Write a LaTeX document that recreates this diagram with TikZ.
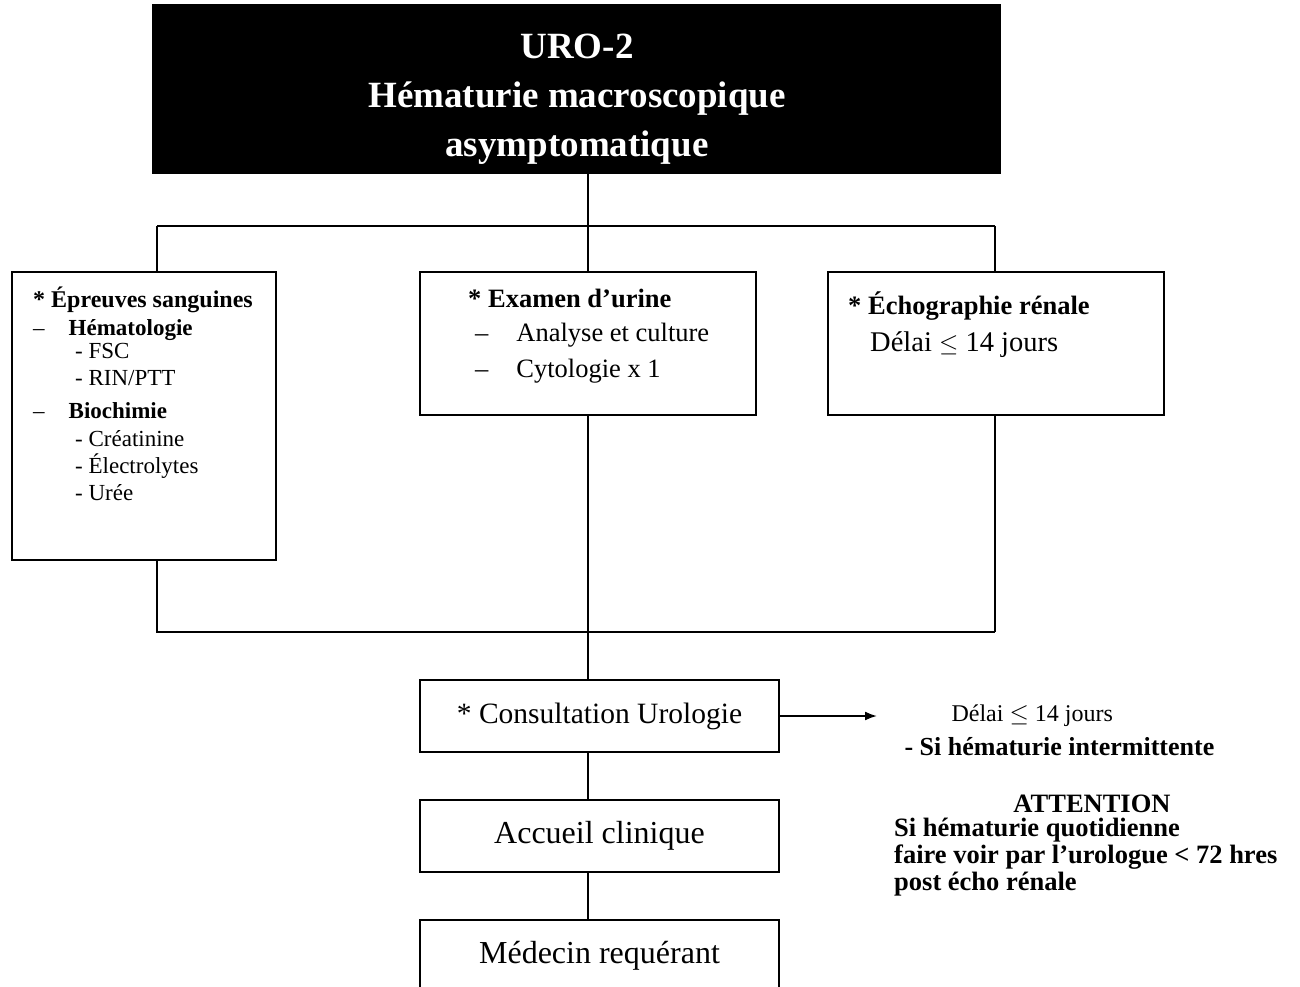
\documentclass[tikz,border=0pt]{standalone}
\usepackage{fontspec}
\setmainfont{Liberation Serif}
\usetikzlibrary{arrows.meta}

\tikzset{
  boite/.style={draw,line width=1.8pt,inner sep=0pt},
  lien/.style={line width=1.8pt},
  texte/.style={anchor=north west,align=left,inner sep=0pt},
}

\begin{document}
\begin{tikzpicture}[x=1pt,y=-1pt,>={Latex[length=12pt,width=9pt]}]
  \clip (0,0) rectangle (1300,987);
  % titre
  \node[fill=black,minimum width=849pt,minimum height=170pt] (titre) at (576.5,89) {};
  \node[text=white,align=center,font=\bfseries\fontsize{37}{49}\selectfont] (ttitre)
    at (577,99) {URO-2\\Hématurie macroscopique\\asymptomatique};
  % les trois examens
  \node[boite,minimum width=264pt,minimum height=288pt] (sang) at (144,416) {};
  \node[texte,font=\fontsize{23}{27.3}\selectfont] (tsang) at (33,287)
    {\textbf{\fontsize{24}{27.3}\selectfont* Épreuves sanguines}\\
     –\hspace*{24pt}\textbf{Hématologie}\\[-4pt]
     \hspace*{42pt}- FSC\\
     \hspace*{42pt}- RIN/PTT\\[6pt]
     –\hspace*{24pt}\textbf{Biochimie}\\
     \hspace*{42pt}- Créatinine\\
     \hspace*{42pt}- Électrolytes\\
     \hspace*{42pt}- Urée};
  \node[boite,minimum width=336pt,minimum height=143pt] (urine) at (588,343.5) {};
  \node[texte,font=\fontsize{26.5}{34}\selectfont] (turine) at (468,289)
    {\textbf{* Examen d’urine}\\
     \hspace*{7pt}–\hspace*{28pt}Analyse et culture\\[2pt]
     \hspace*{7pt}–\hspace*{28pt}Cytologie x 1};
  \node[boite,minimum width=336pt,minimum height=143pt] (echo) at (996,343.5) {};
  \node[texte,font=\fontsize{26.5}{37}\selectfont] (techo) at (848,292)
    {\textbf{* Échographie rénale}\\
     \hspace*{22pt}{\fontsize{28.5}{37}\selectfont Délai $\leq$ 14 jours}};
  % suite
  \node[boite,minimum width=359pt,minimum height=72pt,font=\fontsize{29.5}{34}\selectfont]
    (consult) at (599.5,716) {* Consultation Urologie};
  \node[boite,minimum width=359pt,minimum height=72pt,font=\fontsize{32}{36}\selectfont]
    (accueil) at (599.5,836) {Accueil clinique};
  \node[boite,minimum width=359pt,minimum height=72pt,font=\fontsize{32}{36}\selectfont]
    (medecin) at (599.5,956) {Médecin requérant};
  % notes
  \node[anchor=west,font=\fontsize{24}{27}\selectfont] (delai) at (948,716)
    {Délai $\leq$ 14 jours};
  \node[anchor=west,font=\bfseries\fontsize{26}{27}\selectfont] (intermit) at (901,747)
    {- Si hématurie intermittente};
  \node[font=\bfseries\fontsize{26.5}{27}\selectfont] (attention) at (1092,804) {ATTENTION};
  \node[texte,font=\bfseries\fontsize{26.5}{27}\selectfont] (quotid) at (894,818)
    {Si hématurie quotidienne\\faire voir par l’urologue < 72 hres\\post écho rénale};

  % liens
  \coordinate (haut) at (588,226);
  \coordinate (hg) at (157,226);
  \coordinate (hd) at (995,226);
  \coordinate (bas) at (588,632);
  \coordinate (bg) at (157,632);
  \coordinate (bd) at (995,632);
  \coordinate (fleche) at (877,716);
  \draw[lien] (titre.south -| haut) -- (haut);
  \draw[lien] (hg) -- (hd);
  \draw[lien] (hg) -- (hg |- sang.north);
  \draw[lien] (haut) -- (urine.north);
  \draw[lien] (hd) -- (hd |- echo.north);
  \draw[lien] (sang.south -| bg) -- (bg) -- (bd);
  \draw[lien] (urine.south) -- (bas);
  \draw[lien] (echo.south -| bd) -- (bd);
  \draw[lien] (bas) -- (consult.north -| bas);
  \draw[lien] (consult.south -| bas) -- (accueil.north -| bas);
  \draw[lien] (accueil.south -| bas) -- (medecin.north -| bas);
  \draw[lien,->] (consult.east) -- (fleche);
\end{tikzpicture}
\end{document}
